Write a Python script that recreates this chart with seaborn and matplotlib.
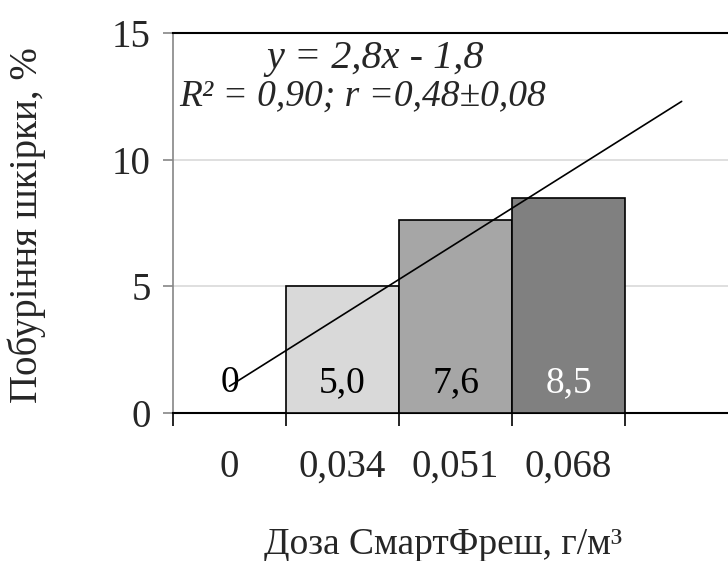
import numpy as np
import pandas as pd
import matplotlib
matplotlib.use("Agg")
import matplotlib.pyplot as plt
import seaborn as sns

categories = ["0", "0,034", "0,051", "0,068"]
values = [0.0, 5.0, 7.6, 8.5]
value_labels = ["0", "5,0", "7,6", "8,5"]
bar_colors = ["#FFFFFF", "#D9D9D9", "#A6A6A6", "#808080"]
label_colors = ["black", "black", "black", "white"]
y_ticks = [0, 5, 10, 15]

sns.set_theme(style="white")
plt.rcParams["font.family"] = ["Liberation Serif", "DejaVu Serif"]

df = pd.DataFrame({"dose": categories, "val": values})

fig = plt.figure(figsize=(7.28, 5.61), dpi=100)
ax = fig.add_axes([0.2376, 0.2638, 0.7624, 0.6774])

sns.barplot(data=df, x="dose", y="val", hue="dose", order=categories,
            palette=bar_colors, width=1.0, edgecolor="black", linewidth=1.2,
            legend=False, ax=ax, zorder=3)

# trendline (linear, index based, forecast one period forward)
idx = np.arange(1, len(values) + 1)
k, b = np.polyfit(idx, values, 1)
xt = np.array([1, len(values) + 1])
ax.plot(xt - 1, k * xt + b, color="black", lw=1.2, zorder=5)

for i, (v, lab, c) in enumerate(zip(values, value_labels, label_colors)):
    ax.text(i, 1.2, lab, ha="center", va="center", fontsize=27, color=c, zorder=6)

ax.text(1.29, 14.0, "y = 2,8x - 1,8", ha="center", va="center",
        fontsize=29, style="italic", zorder=6)
ax.text(1.18, 12.5, "R² = 0,90; r =0,48±0,08", ha="center", va="center",
        fontsize=27, style="italic", zorder=6)

ax.set_xlim(-0.5, 4.41)
ax.set_ylim(0, 15)
ax.set_yticks(y_ticks)
ax.set_yticklabels([str(t) for t in y_ticks], fontsize=28)
ax.yaxis.grid(True, color="#D9D9D9", lw=1.2, zorder=0)
ax.set_axisbelow(True)

ax.set_xticks(range(len(categories)))
ax.set_xticklabels(categories, fontsize=28)
ax.set_xticks(np.arange(-0.5, len(categories)), minor=True)
ax.tick_params(axis="x", which="major", length=0, pad=26)
ax.tick_params(axis="x", which="minor", length=9, width=1.2, color="black",
               direction="out", bottom=True)
ax.tick_params(axis="y", which="major", length=7, width=1.2, color="#868686",
               direction="out", left=True, pad=9)

for s in ["top", "bottom"]:
    ax.spines[s].set_color("black")
    ax.spines[s].set_linewidth(1.5)
ax.spines["left"].set_color("#868686")
ax.spines["left"].set_linewidth(1.2)
ax.spines["right"].set_visible(False)

ax.set_xlabel("")
ax.set_ylabel("")
fig.text(0.037, 0.598, "Побуріння шкірки, %", rotation=90, ha="center",
         va="center", fontsize=28)
fig.text(0.609, 0.012, "Доза СмартФреш, г/м³", ha="center", va="baseline", fontsize=27)

fig.savefig("out.png", dpi=100)
